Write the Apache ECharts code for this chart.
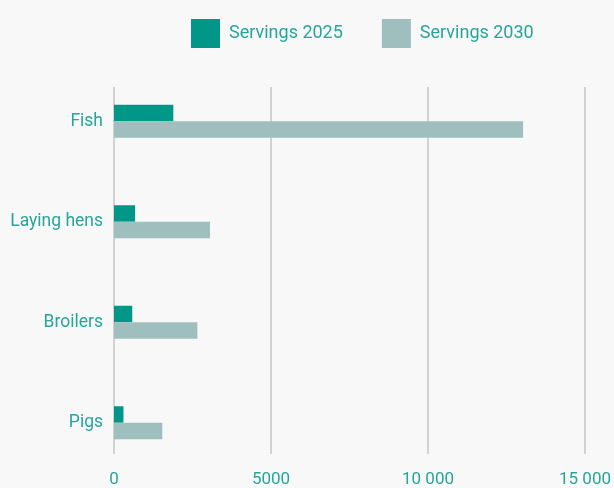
<!DOCTYPE html>
<html>
<head>
<meta charset="utf-8">
<script src="https://cdn.jsdelivr.net/npm/echarts@6/dist/echarts.min.js"></script>
<style>
  html, body { margin: 0; padding: 0; background: #f8f8f8; }
  #chart { width: 614px; height: 488px; }
</style>
</head>
<body>
<div id="chart"></div>
<script>
// categories and values
var categories = ['Fish', 'Laying hens', 'Broilers', 'Pigs'];
var servings2025 = [1885, 670, 580, 300];
var servings2030 = [13000, 3050, 2650, 1535];
var xTicks = { min: 0, max: 15000, step: 5000 };

var teal = '#26a69a';

var fmtNum = function (v) {
    if (v >= 10000) {
        return String(v).replace(/\B(?=(\d{3})+(?!\d))/g, ' ');
    }
    return String(v);
};

var chart = echarts.init(document.getElementById('chart'));
var option = {
    backgroundColor: '#f8f8f8',
    animation: false,
    textStyle: { fontFamily: 'Roboto' },
    legend: {
        left: 191,
        top: 19,
        padding: 0,
        itemWidth: 29,
        itemHeight: 29,
        itemGap: 39,
        icon: 'rect',
        textStyle: { color: teal, fontSize: 18, fontFamily: 'Roboto', padding: [3, 0, 0, 4] },
        data: ['Servings 2025', 'Servings 2030']
    },
    grid: [
        // grid for vertical lines and x labels
        { left: 114, right: 28, top: 87, bottom: 32 },
        // grid for the bars
        { left: 114, right: 28, top: 71, bottom: 15 }
    ],
    xAxis: [
        {
            gridIndex: 0,
            type: 'value',
            min: xTicks.min,
            max: xTicks.max,
            interval: xTicks.step,
            axisLine: { show: false },
            axisTick: { show: false },
            splitLine: { show: true, lineStyle: { color: '#d2d2d2', width: 2 } },
            axisLabel: { color: teal, fontSize: 17, margin: 17, formatter: fmtNum }
        },
        {
            gridIndex: 1,
            type: 'value',
            min: xTicks.min,
            max: xTicks.max,
            show: false
        }
    ],
    yAxis: [
        { gridIndex: 0, type: 'value', show: false },
        {
            gridIndex: 1,
            type: 'category',
            inverse: true,
            data: categories,
            axisLine: { show: false },
            axisTick: { show: false },
            axisLabel: { color: teal, fontSize: 17.5, margin: 11, padding: [4, 0, 0, 0] }
        }
    ],
    series: [
        {
            name: 'Servings 2025',
            type: 'bar',
            xAxisIndex: 1,
            yAxisIndex: 1,
            barWidth: 16.5,
            barGap: '0%',
            itemStyle: { color: '#009688' },
            data: servings2025
        },
        {
            name: 'Servings 2030',
            type: 'bar',
            xAxisIndex: 1,
            yAxisIndex: 1,
            barWidth: 16.5,
            barGap: '0%',
            itemStyle: { color: '#9ebfbd' },
            data: servings2030
        }
    ]
};
chart.setOption(option);
</script>
</body>
</html>
